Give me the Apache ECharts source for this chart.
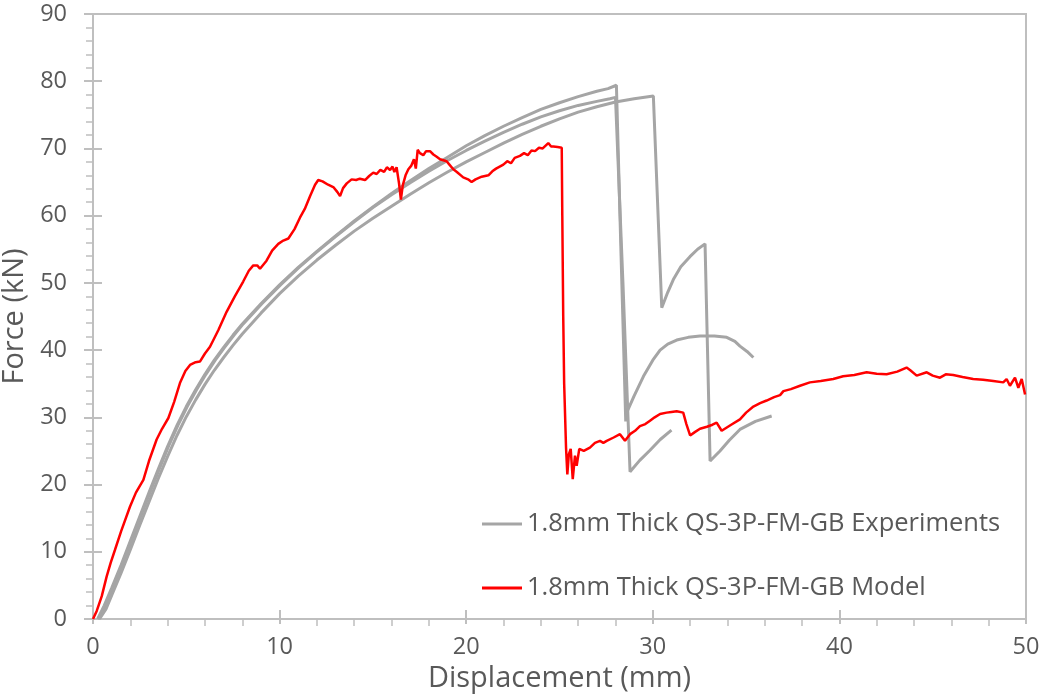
<!DOCTYPE html>
<html>
<head>
<meta charset="utf-8">
<script src="https://cdn.jsdelivr.net/npm/echarts@6/dist/echarts.min.js"></script>
<style>
  html, body { margin: 0; padding: 0; background: #fff; }
  #chart { width: 1041px; height: 698px; }
</style>
</head>
<body>
<div id="chart"></div>
<script>
// Force–displacement curves, 1.8 mm thick QS-3P-FM-GB specimens
const expName = '1.8mm Thick QS-3P-FM-GB Experiments';
const modelName = '1.8mm Thick QS-3P-FM-GB Model';

const xTicks = [0, 10, 20, 30, 40, 50];
const yTicks = [0, 10, 20, 30, 40, 50, 60, 70, 80, 90];

// Experiment 1: highest peak, second drop recovers to a plateau
const exp1 = [
  [0.25,0],[0.6,2.0],[1.0,4.6],[1.5,8.0],[2.0,11.6],[2.5,15.2],[3.0,18.8],[3.5,22.3],
  [4.0,25.7],[4.5,28.8],[5.0,31.6],[5.5,34.1],[6.0,36.4],[6.5,38.5],[7.0,40.4],[7.5,42.2],
  [8.0,43.9],[9.0,46.9],[10.0,49.7],[11.0,52.3],[12.0,54.7],[13.0,57.0],[14.0,59.2],
  [15.0,61.3],[16.0,63.3],[17.0,65.2],[18.0,67.0],[19.0,68.7],[20.0,70.4],[21.0,71.9],
  [22.0,73.3],[23.0,74.6],[24.0,75.8],[25.0,76.8],[26.0,77.7],[27.0,78.5],[27.6,78.9],
  [28.05,79.4],[28.3,54.0],[28.55,29.4],[28.6,30.7],[29.0,33.2],[29.5,36.1],[30.0,38.5],
  [30.39,40.0],[30.8,40.9],[31.28,41.5],[31.9,41.9],[32.53,42.1],[33.3,42.1],[33.96,41.9],
  [34.4,41.3],[34.67,40.6],[35.05,39.8],[35.39,38.9]
];

// Experiment 2: fails near 28 mm, small reload afterwards
const exp2 = [
  [0.3,0],[0.65,2.0],[1.05,4.6],[1.55,8.0],[2.05,11.6],[2.55,15.2],[3.05,18.8],[3.55,22.3],
  [4.05,25.7],[4.55,28.8],[5.05,31.6],[5.55,34.1],[6.05,36.4],[6.55,38.5],[7.05,40.4],
  [7.55,42.2],[8.05,43.9],[9.05,46.9],[10.05,49.7],[11.0,52.2],[12.0,54.6],[13.0,56.9],
  [14.0,59.1],[15.0,61.2],[16.0,63.1],[17.0,64.9],[18.0,66.6],[19.0,68.2],[20.0,69.7],
  [21.0,71.1],[22.0,72.4],[23.0,73.6],[24.0,74.7],[25.0,75.6],[26.0,76.4],[27.0,77.0],
  [27.7,77.4],[28.0,77.6],[28.4,50.0],[28.78,21.9],[29.3,23.6],[29.85,25.1],[30.4,26.7],
  [31.0,28.1]
];

// Experiment 3: latest peak, two load drops
const exp3 = [
  [0.35,0],[0.7,1.5],[1.0,3.5],[1.5,6.8],[2.0,10.3],[2.5,13.9],[3.0,17.4],[3.5,20.9],
  [4.0,24.2],[4.5,27.3],[5.0,30.1],[5.5,32.6],[6.0,34.9],[6.5,37.0],[7.0,38.9],[7.5,40.7],
  [8.0,42.4],[9.0,45.5],[10.0,48.4],[11.0,51.0],[12.0,53.4],[13.0,55.6],[14.0,57.7],
  [15.0,59.6],[16.0,61.4],[17.0,63.2],[18.0,64.9],[19.0,66.5],[20.0,68.0],[21.0,69.4],
  [22.0,70.8],[23.0,72.1],[24.0,73.3],[25.0,74.4],[26.0,75.4],[27.0,76.2],[28.0,76.9],
  [29.0,77.4],[30.03,77.8],[30.48,46.3],[30.8,48.6],[31.1,50.5],[31.5,52.4],[31.99,53.9],
  [32.4,55.0],[32.8,55.8],[33.07,23.5],[33.6,25.0],[34.1,26.6],[34.67,28.2],[35.5,29.4],
  [36.37,30.2]
];

// Model prediction
const model = [
  [0,0],[0.2,1.2],[0.47,3.4],[0.73,6.3],[0.95,8.4],[1.18,10.3],[1.5,13.0],[1.98,16.7],
  [2.3,18.8],[2.55,20.0],[2.7,20.7],[3.0,23.5],[3.41,26.7],[3.7,28.3],[4.04,29.9],
  [4.35,32.3],[4.66,35.1],[4.95,36.9],[5.2,37.8],[5.5,38.2],[5.73,38.3],[6.0,39.5],
  [6.27,40.5],[6.72,43.0],[7.16,45.7],[7.6,48.0],[8.05,50.2],[8.35,51.8],[8.59,52.6],
  [8.8,52.6],[8.95,52.1],[9.3,53.3],[9.6,54.8],[9.93,55.8],[10.2,56.3],[10.47,56.6],
  [10.8,58.0],[11.09,59.7],[11.35,61.0],[11.63,62.9],[11.9,64.6],[12.07,65.3],[12.3,65.1],
  [12.6,64.6],[12.9,64.2],[13.1,63.5],[13.24,62.9],[13.4,64.1],[13.6,64.8],[13.86,65.4],
  [14.1,65.3],[14.3,65.5],[14.58,65.3],[14.8,65.9],[15.02,66.4],[15.2,66.2],[15.4,66.8],
  [15.6,66.5],[15.75,67.2],[15.92,66.8],[16.05,67.3],[16.15,66.5],[16.27,67.2],[16.4,64.8],
  [16.5,62.4],[16.6,64.5],[16.75,66.0],[16.9,66.9],[17.05,67.4],[17.2,68.4],[17.3,67.0],
  [17.4,69.8],[17.52,69.3],[17.7,69.0],[17.85,69.6],[18.06,69.6],[18.24,69.1],[18.4,68.8],
  [18.6,68.4],[18.95,68.1],[19.1,67.6],[19.31,66.9],[19.5,66.5],[19.84,65.7],[20.1,65.4],
  [20.29,65.0],[20.5,65.4],[20.83,65.8],[21.19,66.0],[21.4,66.6],[21.6,67.0],[21.99,67.6],
  [22.2,68.1],[22.4,67.8],[22.6,68.6],[22.88,68.9],[23.1,69.3],[23.3,69.0],[23.5,69.7],
  [23.69,69.6],[23.9,70.1],[24.1,70.0],[24.4,70.8],[24.55,70.3],[24.67,70.3],[24.9,70.2],
  [25.12,70.1],[25.15,60.0],[25.2,45.0],[25.25,35.0],[25.35,25.5],[25.42,21.5],[25.5,24.5],
  [25.6,25.3],[25.71,20.8],[25.83,24.3],[25.92,22.8],[26.06,25.3],[26.3,25.0],[26.63,25.5],
  [26.9,26.2],[27.17,26.5],[27.35,26.2],[27.53,26.5],[27.9,27.0],[28.24,27.5],[28.51,26.5],
  [28.78,27.5],[29.05,28.0],[29.31,28.7],[29.6,29.0],[29.85,29.5],[30.1,30.0],[30.39,30.5],
  [30.74,30.7],[31.0,30.8],[31.28,30.9],[31.63,30.7],[31.8,29.0],[32.0,27.3],[32.25,27.8],
  [32.53,28.3],[32.9,28.6],[33.2,28.9],[33.42,29.2],[33.69,28.0],[34.2,28.9],[34.67,29.7],
  [35.0,30.7],[35.39,31.6],[35.75,32.1],[36.1,32.5],[36.5,33.0],[36.82,33.3],[37.0,33.9],
  [37.4,34.2],[37.89,34.7],[38.42,35.2],[39.0,35.4],[39.67,35.7],[40.2,36.1],[40.8,36.3],
  [41.46,36.7],[42.0,36.5],[42.53,36.4],[43.1,36.8],[43.6,37.4],[43.8,37.0],[44.14,36.2],
  [44.68,36.7],[45.0,36.2],[45.39,35.9],[45.7,36.4],[46.1,36.3],[46.6,36.0],[47.17,35.7],
  [47.7,35.6],[48.25,35.4],[48.78,35.2],[48.96,35.7],[49.14,34.7],[49.41,35.9],[49.59,34.4],
  [49.77,35.7],[49.95,33.4]
];

const textGray = '#595959';
const axisGray = '#BFBFBF';
const font = 'Open Sans';

const chart = echarts.init(document.getElementById('chart'), null, { renderer: 'canvas' });

const baseX = {
  type: 'value', min: xTicks[0], max: xTicks[xTicks.length - 1], interval: 10
};
const baseY = {
  type: 'value', min: yTicks[0], max: yTicks[yTicks.length - 1], interval: 10
};

const expStyle = { color: '#A5A5A5', width: 3 };

chart.setOption({
  animation: false,
  backgroundColor: '#fff',
  grid: {
    left: 93, right: 15, top: 14, bottom: 79,
    containLabel: false, outerBoundsMode: 'none',
    show: true, borderColor: axisGray, borderWidth: 2, backgroundColor: 'transparent'
  },
  legend: {
    data: [expName, modelName],
    orient: 'vertical',
    left: 482, top: 511, padding: 0,
    itemWidth: 40, itemHeight: 3, itemGap: 38,
    icon: 'rect',
    textStyle: { color: textGray, fontSize: 25.5, fontFamily: font },
    selectedMode: false
  },
  xAxis: [
    Object.assign({}, baseX, {
      name: 'Displacement (mm)',
      nameLocation: 'middle', nameGap: 44,
      nameTextStyle: { color: textGray, fontSize: 29, fontFamily: font },
      axisLine: { show: true, lineStyle: { color: axisGray, width: 2 } },
      axisTick: { show: true, inside: false, length: 5, lineStyle: { color: axisGray, width: 2 } },
      minorTick: { show: true, splitNumber: 5, length: 7, lineStyle: { color: axisGray, width: 1.5 } },
      axisLabel: { color: textGray, fontSize: 23.5, fontFamily: font, margin: 16 },
      splitLine: { show: false }
    }),
    Object.assign({}, baseX, {
      position: 'bottom',
      axisLine: { show: false },
      axisTick: { show: true, inside: true, length: 9, lineStyle: { color: axisGray, width: 2 } },
      axisLabel: { show: false },
      splitLine: { show: false }
    })
  ],
  yAxis: [
    Object.assign({}, baseY, {
      name: 'Force (kN)',
      nameLocation: 'middle', nameGap: 60,
      nameTextStyle: { color: textGray, fontSize: 29, fontFamily: font },
      axisLine: { show: true, lineStyle: { color: axisGray, width: 2 } },
      axisTick: { show: true, inside: false, length: 9, lineStyle: { color: axisGray, width: 2 } },
      minorTick: { show: true, splitNumber: 5, length: 7, lineStyle: { color: axisGray, width: 1.5 } },
      axisLabel: { color: textGray, fontSize: 23.5, fontFamily: font, margin: 26 },
      splitLine: { show: false }
    }),
    Object.assign({}, baseY, {
      position: 'left',
      axisLine: { show: false },
      axisTick: { show: true, inside: true, length: 9, lineStyle: { color: axisGray, width: 2 } },
      axisLabel: { show: false },
      splitLine: { show: false }
    })
  ],
  series: [
    { name: expName, type: 'line', data: exp1, showSymbol: false, symbol: 'none', lineStyle: expStyle, itemStyle: { color: '#A5A5A5' } },
    { name: expName, type: 'line', data: exp2, showSymbol: false, symbol: 'none', lineStyle: expStyle, itemStyle: { color: '#A5A5A5' } },
    { name: expName, type: 'line', data: exp3, showSymbol: false, symbol: 'none', lineStyle: expStyle, itemStyle: { color: '#A5A5A5' } },
    { name: modelName, type: 'line', data: model, showSymbol: false, symbol: 'none', z: 5,
      lineStyle: { color: '#FF0000', width: 2.5 }, itemStyle: { color: '#FF0000' } }
  ]
});
</script>
</body>
</html>
